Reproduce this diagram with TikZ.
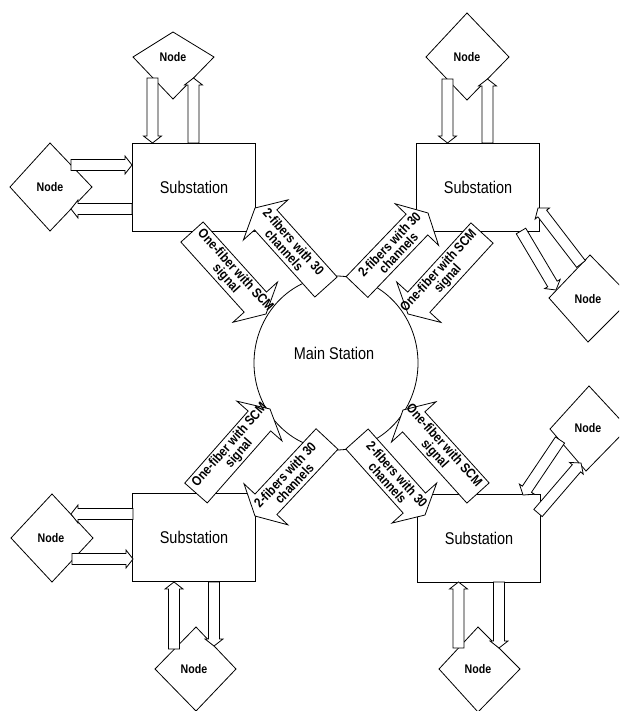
\documentclass[tikz,border=0pt]{standalone}
\usepackage{fontspec}
\usetikzlibrary{calc}
\newfontfamily\lsans[FakeStretch=0.85]{Liberation Sans}
\tikzset{
  ln/.style={draw=black, line width=0.8pt, line join=miter},
  subbox/.style={ln, fill=white, minimum width=123pt, minimum height=88pt, inner sep=0pt,
    font=\lsans\fontsize{17}{17}\selectfont},
  diam/.style={ln, fill=white},
  nodetext/.style={font=\lsans\bfseries\fontsize{12.5}{12}\selectfont, inner sep=0pt},
  blockarr/.style={ln, fill=white},
  bigarr/.style={ln, fill=white},
  arrtext/.style={font=\lsans\bfseries\fontsize{13.5}{12.5}\selectfont, align=center, inner sep=0pt},
  mainlabel/.style={font=\lsans\fontsize{17}{17}\selectfont, inner sep=0pt}
}
\newcommand{\blockarrow}[2]{%
  \coordinate (ba-b) at ($(#2)!7pt!(#1)$);
  \draw[blockarr] ($(#1)!5.5pt!90:(#2)$) -- ($(ba-b)!5.5pt!90:(#2)$) -- ($(ba-b)!9pt!90:(#2)$) -- (#2)
    -- ($(ba-b)!9pt!-90:(#2)$) -- ($(ba-b)!5.5pt!-90:(#2)$) -- ($(#1)!5.5pt!-90:(#2)$) -- cycle;
}
\newcommand{\bigarrow}[4]{%
  \coordinate (#1-b) at ($(#3)!16pt!(#2)$);
  \draw[bigarr] ($(#2)!15pt!90:(#3)$) -- ($(#1-b)!15pt!90:(#3)$) -- ($(#1-b)!30pt!90:(#3)$) -- (#3)
    -- ($(#1-b)!30pt!-90:(#3)$) -- ($(#1-b)!15pt!-90:(#3)$) -- ($(#2)!15pt!-90:(#3)$) -- cycle;
  \path (#2) -- (#3) node[pos=0.52, sloped, arrtext] (#1) {#4};
}
\begin{document}
\begin{tikzpicture}[x=1pt, y=-1pt]
\useasboundingbox (0,0) rectangle (619,711);
\clip (0,0) rectangle (619,711);
\fill[white] (0,0) rectangle (619,711);

% main station
\draw[ln] (336,363) ellipse [x radius=82, y radius=87];
\node[mainlabel] (main) at (334,353) {Main Station};

% substations
\node[subbox] (sTL) at (194,187) {Substation};
\node[subbox] (sTR) at (478,187) {Substation};
\node[subbox] (sBL) at (194,537.5) {Substation};
\node[subbox] (sBR) at (479,538) {Substation};

% diamonds (Node)
\draw[diam] (133,57) -- (173,32) -- (214,57) -- (173,99) -- cycle;
\node[nodetext] (nTLt) at (173,57) {Node};
\draw[diam] (10,187) -- (50,143) -- (92,187) -- (50,231) -- cycle;
\node[nodetext] (nTLl) at (50,187) {Node};
\draw[diam] (426,57) -- (467,13) -- (509,57) -- (467,100) -- cycle;
\node[nodetext] (nTRt) at (467,57) {Node};
\draw[diam] (549,298) -- (590,255) -- (632,298) -- (588,342) -- cycle;
\node[nodetext] (nTRr) at (588,299) {Node};
\draw[diam] (11,538) -- (52,494) -- (93,538) -- (52,582) -- cycle;
\node[nodetext] (nBLl) at (51,538) {Node};
\draw[diam] (155,669) -- (196,627) -- (236,669) -- (196,711) -- cycle;
\node[nodetext] (nBLb) at (194,669) {Node};
\draw[diam] (550,429) -- (589,386) -- (628,428) -- (586,471) -- cycle;
\node[nodetext] (nBRr) at (588,428) {Node};
\draw[diam] (439,669) -- (478,627) -- (520,669) -- (478,712) -- cycle;
\node[nodetext] (nBRb) at (478,669) {Node};

% small block arrows: coordinates
\coordinate (a1t) at (152.5,78);  \coordinate (a1h) at (152.5,143);
\coordinate (a2t) at (193.5,143); \coordinate (a2h) at (193.5,78);
\coordinate (a3t) at (71,165);    \coordinate (a3h) at (132,165);
\coordinate (a4t) at (132,209);   \coordinate (a4h) at (71,209);
\coordinate (b1t) at (447.5,79);  \coordinate (b1h) at (447.5,143);
\coordinate (b2t) at (487.5,143); \coordinate (b2h) at (487.5,79);
\coordinate (b3t) at (521,231);   \coordinate (b3h) at (556,290);
\coordinate (b4t) at (581,264);   \coordinate (b4h) at (538,208);
\coordinate (c1t) at (133,514);   \coordinate (c1h) at (71,514);
\coordinate (c2t) at (72,559);    \coordinate (c2h) at (133,559);
\coordinate (c3t) at (174,649);   \coordinate (c3h) at (174,582);
\coordinate (c4t) at (214,582);   \coordinate (c4h) at (214,646);
\coordinate (d1t) at (458.5,648); \coordinate (d1h) at (458.5,582);
\coordinate (d2t) at (499,582);   \coordinate (d2h) at (499,648);
\coordinate (d3t) at (560,440);   \coordinate (d3h) at (523,495);
\coordinate (d4t) at (538,513);   \coordinate (d4h) at (581,463);

\blockarrow{a1t}{a1h} \blockarrow{a2t}{a2h} \blockarrow{a3t}{a3h} \blockarrow{a4t}{a4h}
\blockarrow{b1t}{b1h} \blockarrow{b2t}{b2h} \blockarrow{b3t}{b3h} \blockarrow{b4t}{b4h}
\blockarrow{c1t}{c1h} \blockarrow{c2t}{c2h} \blockarrow{c3t}{c3h} \blockarrow{c4t}{c4h}
\blockarrow{d1t}{d1h} \blockarrow{d2t}{d2h} \blockarrow{d3t}{d3h} \blockarrow{d4t}{d4h}

% big arrows
\coordinate (TL1t) at (192,232); \coordinate (TL1p) at (266,314);
\coordinate (TL2t) at (326,287); \coordinate (TL2p) at (255,208);
\coordinate (TR1t) at (357,287); \coordinate (TR1p) at (428,213);
\coordinate (TR2t) at (482,233); \coordinate (TR2p) at (408,314);
\coordinate (BL1t) at (196,493); \coordinate (BL1p) at (270,409);
\coordinate (BL2t) at (327,439); \coordinate (BL2p) at (255,516);
\coordinate (BR1t) at (478,493); \coordinate (BR1p) at (403,410);
\coordinate (BR2t) at (357,439); \coordinate (BR2p) at (425,515);

\bigarrow{TL1}{TL1t}{TL1p}{One-fiber with SCM\\signal}
\bigarrow{TL2}{TL2t}{TL2p}{2-fibers with 30\\channels}
\bigarrow{TR1}{TR1t}{TR1p}{2-fibers with 30\\channels}
\bigarrow{TR2}{TR2t}{TR2p}{One-fiber with SCM\\signal}
\bigarrow{BL1}{BL1t}{BL1p}{One-fiber with SCM\\signal}
\bigarrow{BL2}{BL2t}{BL2p}{2-fibers with 30\\channels}
\bigarrow{BR1}{BR1t}{BR1p}{One-fiber with SCM\\signal}
\bigarrow{BR2}{BR2t}{BR2p}{2-fibers with 30\\channels}
\end{tikzpicture}
\end{document}
